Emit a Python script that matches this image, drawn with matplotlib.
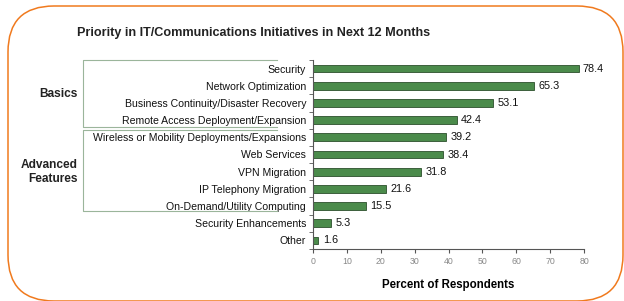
import numpy as np
import matplotlib.pyplot as plt
from matplotlib.patches import FancyBboxPatch

# data
categories = ["Security", "Network Optimization", "Business Continuity/Disaster Recovery",
              "Remote Access Deployment/Expansion", "Wireless or Mobility Deployments/Expansions",
              "Web Services", "VPN Migration", "IP Telephony Migration",
              "On-Demand/Utility Computing", "Security Enhancements", "Other"]
values = [78.4, 65.3, 53.1, 42.4, 39.2, 38.4, 31.8, 21.6, 15.5, 5.3, 1.6]
x_ticks = [0, 10, 20, 30, 40, 50, 60, 70, 80]

plt.rcParams['font.family'] = ['Liberation Sans', 'DejaVu Sans']

W, H = 624, 301
fig = plt.figure(figsize=(W / 100, H / 100), dpi=100)

# background frame with orange rounded border
bg = fig.add_axes([0, 0, 1, 1])
bg.set_xlim(0, W)
bg.set_ylim(H, 0)
bg.axis("off")
bg.add_patch(FancyBboxPatch((8, 6), 615, 295, boxstyle="round,pad=0,rounding_size=46",
                            fill=False, ec="#f07a1e", lw=1.1))

ax = fig.add_axes([313 / W, 1 - 249 / H, 271 / W, 189 / H])
y = np.arange(len(categories))
ax.barh(y, values, height=0.45, color="#4b8b4b", edgecolor="#2c4f2c", linewidth=0.6)
ax.set_ylim(len(categories) - 0.5, -0.5)
ax.set_xlim(0, 80)

ax.set_yticks(y)
ax.set_yticklabels(categories, fontsize=7.6, color="#111111")
ax.set_yticks(np.arange(len(categories) + 1) - 0.5, minor=True)
ax.tick_params(axis="y", which="major", length=0, pad=5)
ax.tick_params(axis="y", which="minor", length=3, color="#555555")
ax.set_xticks(x_ticks)
ax.tick_params(axis="x", length=3, labelsize=6.3, labelcolor="#888888", color="#555555", pad=3)

for s in ["top", "right"]:
    ax.spines[s].set_visible(False)
for s in ["left", "bottom"]:
    ax.spines[s].set_color("#555555")
    ax.spines[s].set_linewidth(0.8)

for yi, v in zip(y, values):
    ax.text(v + 1.3, yi, f"{v}", va="center", ha="left", fontsize=7.8, color="#111111")

ax.set_xlabel("Percent of Respondents", fontsize=8.3, fontweight="bold", labelpad=9)

fig.text(254 / W, 1 - 33 / H, "Priority in IT/Communications Initiatives in Next 12 Months",
         ha="center", va="center", fontsize=9.1, fontweight="bold", color="#222222")

# group brackets
tr = ax.get_yaxis_transform()
lc = "#9bb59b"
x0, x1 = -0.849, -0.133
for top, bot in [(-0.5, 3.4), (3.55, 8.3)]:
    ax.plot([x1, x0, x0, x1], [top, top, bot, bot], transform=tr, color=lc, lw=0.8,
            clip_on=False)

ax.text(-0.868, 1.5, "Basics", transform=tr, ha="right", va="center",
        fontsize=8.6, fontweight="bold", color="#222222")
ax.text(-0.868, 6.0, "Advanced\nFeatures", transform=tr, ha="right", va="center",
        fontsize=8.6, fontweight="bold", color="#222222", linespacing=1.2)

fig.savefig("out.png", dpi=100)
